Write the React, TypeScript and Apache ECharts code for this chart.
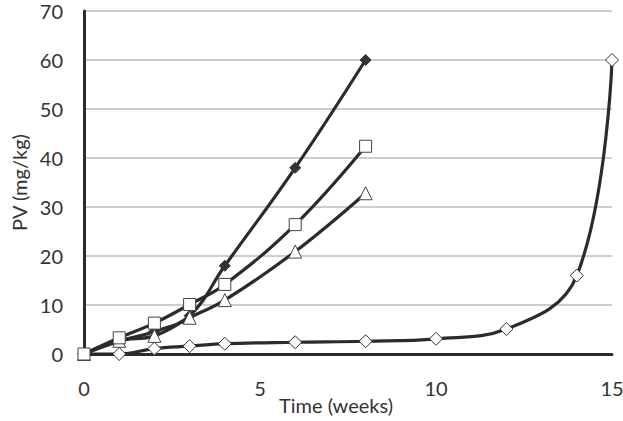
import React, { useEffect, useRef } from "react";
import * as echarts from "echarts";

const weeksShort = [0, 1, 2, 3, 4, 6, 8];
const filledDiamond = [0, 2.6, 4.6, 7.8, 18, 38, 60];
const openSquare = [0, 3.3, 6.3, 10.1, 14.2, 26.4, 42.4];
const openTriangle = [0, 2.7, 3.7, 7.4, 11, 20.9, 32.8];
const weeksLong = [0, 1, 2, 3, 4, 6, 8, 10, 12, 14, 15];
const openDiamond = [0, 0, 1.1, 1.6, 2.1, 2.4, 2.6, 3.1, 5.1, 16, 60];

const xTicks = [0, 5, 10, 15];
const yTicks = [0, 10, 20, 30, 40, 50, 60, 70];

const pair = (xs: number[], ys: number[]) => xs.map((x, i) => [x, ys[i]]);

export default function App() {
  const ref = useRef<HTMLDivElement>(null);
  useEffect(() => {
    if (!ref.current) return;
    const chart = echarts.init(ref.current, null, { renderer: "svg" });
    const font = "Lato";
    const lineColor = "#2b2b2b";
    const textColor = "#333";
    const base = {
      type: "line",
      smooth: 0.4,
      lineStyle: { color: lineColor, width: 3.2 },
      emphasis: { disabled: true },
    };
    chart.setOption({
      animation: false,
      textStyle: { fontFamily: font },
      grid: { left: 84, right: 11, top: 11, bottom: 67, outerBoundsMode: "none", containLabel: false },
      xAxis: {
        type: "value",
        min: xTicks[0],
        max: xTicks[xTicks.length - 1],
        interval: 5,
        name: "Time (weeks)",
        nameLocation: "middle",
        nameGap: 41,
        nameMoveOverlap: false,
        nameTextStyle: { fontFamily: font, fontSize: 20, color: textColor, padding: [0, 24, 0, 0] },
        axisLine: { lineStyle: { color: lineColor, width: 3 } },
        axisTick: { show: false },
        splitLine: { show: false },
        axisLabel: { fontFamily: font, fontSize: 20, color: textColor, margin: 24 },
      },
      yAxis: {
        type: "value",
        min: yTicks[0],
        max: yTicks[yTicks.length - 1],
        interval: 10,
        name: "PV (mg/kg)",
        nameLocation: "middle",
        nameGap: 55,
        nameMoveOverlap: false,
        nameTextStyle: { fontFamily: font, fontSize: 20, color: textColor },
        axisLine: { show: true, lineStyle: { color: lineColor, width: 3 } },
        axisTick: { show: false },
        splitLine: { lineStyle: { color: "#bdbdbd", width: 1.5 } },
        axisLabel: { fontFamily: font, fontSize: 20, color: textColor, margin: 21 },
      },
      series: [
        {
          ...base,
          name: "open diamond",
          data: pair(weeksLong, openDiamond),
          symbol: "diamond",
          symbolSize: 13,
          itemStyle: { color: "#ffffff", borderColor: "#333", borderWidth: 1 },
        },
        {
          ...base,
          name: "filled diamond",
          data: pair(weeksShort, filledDiamond),
          symbol: "diamond",
          symbolSize: 11,
          itemStyle: { color: "#333", borderColor: "#333", borderWidth: 1 },
        },
        {
          ...base,
          name: "open triangle",
          data: pair(weeksShort, openTriangle),
          symbol: "triangle",
          symbolSize: 13,
          itemStyle: { color: "#ffffff", borderColor: "#444", borderWidth: 1 },
        },
        {
          ...base,
          name: "open square",
          data: pair(weeksShort, openSquare),
          symbol: "rect",
          symbolSize: 12,
          itemStyle: { color: "#ffffff", borderColor: "#444", borderWidth: 1 },
        },
      ],
    });
    return () => chart.dispose();
  }, []);
  return <div ref={ref} style={{ width: 623, height: 421, position: "absolute", left: 0, top: 0 }} />;
}
